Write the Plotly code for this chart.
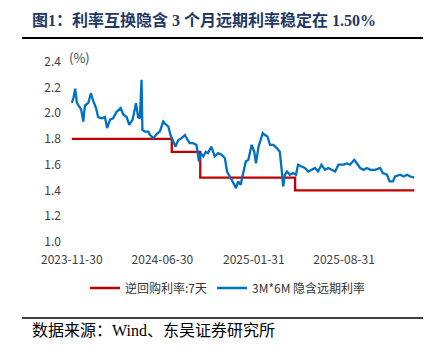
import plotly.graph_objects as go

# ---- data ----
fwd_dates = [
    "2023-11-30", "2023-12-04", "2023-12-08", "2023-12-12", "2023-12-18", "2023-12-22", "2023-12-27",
    "2023-12-31", "2024-01-08", "2024-01-14", "2024-01-19", "2024-01-26", "2024-01-31", "2024-02-08",
    "2024-02-16", "2024-02-21", "2024-02-28", "2024-03-06", "2024-03-14", "2024-03-24", "2024-03-30",
    "2024-04-07", "2024-04-13", "2024-04-21", "2024-04-29", "2024-05-04", "2024-05-08", "2024-05-12",
    "2024-05-14", "2024-05-20", "2024-05-28", "2024-06-01", "2024-06-09", "2024-06-17", "2024-06-24",
    "2024-07-02", "2024-07-06", "2024-07-14", "2024-07-19", "2024-07-25", "2024-07-31", "2024-08-06",
    "2024-08-14", "2024-08-22", "2024-08-27", "2024-09-02", "2024-09-10", "2024-09-18", "2024-09-24",
    "2024-09-28", "2024-10-04", "2024-10-10", "2024-10-15", "2024-10-23", "2024-10-31", "2024-11-08",
    "2024-11-16", "2024-11-24", "2024-11-29", "2024-12-06", "2024-12-12", "2024-12-20", "2024-12-25",
    "2024-12-31", "2025-01-06", "2025-01-12", "2025-01-18", "2025-01-26", "2025-02-01", "2025-02-05",
    "2025-02-11", "2025-02-16", "2025-02-21", "2025-02-26", "2025-03-04", "2025-03-10", "2025-03-18",
    "2025-03-26", "2025-04-02", "2025-04-06", "2025-04-10", "2025-04-14", "2025-04-19", "2025-04-26",
    "2025-05-03", "2025-05-10", "2025-05-15", "2025-05-23", "2025-05-31", "2025-06-08", "2025-06-16",
    "2025-06-24", "2025-07-01", "2025-07-09", "2025-07-17", "2025-07-25", "2025-08-02", "2025-08-10",
    "2025-08-18", "2025-08-30", "2025-09-07", "2025-09-14", "2025-09-24", "2025-09-30", "2025-10-08",
    "2025-10-16", "2025-10-24", "2025-11-01", "2025-11-12", "2025-11-24", "2025-11-30", "2025-12-10",
    "2025-12-16", "2025-12-24", "2025-12-29", "2026-01-10", "2026-01-18", "2026-01-26", "2026-02-03",
    "2026-02-12",
]
fwd_values = [
    2.08, 2.12, 2.19, 2.08, 2.05, 2.03, 1.935,
    2.06, 2.08, 2.155, 2.10, 2.04, 1.97, 1.96,
    1.97, 1.884, 1.95, 1.96, 2.01, 2.04, 1.99,
    1.97, 1.91, 1.95, 2.077, 1.97, 1.96, 2.26,
    1.87, 1.857, 1.857, 1.83, 1.806, 1.84, 1.857,
    1.935, 1.92, 1.896, 1.83, 1.78, 1.74, 1.79,
    1.806, 1.83, 1.806, 1.767, 1.767, 1.754, 1.625,
    1.69, 1.664, 1.70, 1.69, 1.74, 1.664, 1.69,
    1.677, 1.65, 1.547, 1.508, 1.47, 1.418, 1.47,
    1.444, 1.547, 1.625, 1.638, 1.754, 1.70, 1.61,
    1.74, 1.79, 1.845, 1.83, 1.819, 1.754, 1.754,
    1.729, 1.70, 1.574, 1.431, 1.522, 1.547, 1.522,
    1.535, 1.522, 1.60, 1.586, 1.574, 1.547, 1.56,
    1.574, 1.547, 1.60, 1.56, 1.574, 1.56, 1.547,
    1.60, 1.60, 1.61, 1.60, 1.638, 1.61, 1.574,
    1.56, 1.574, 1.56, 1.56, 1.574, 1.535, 1.522,
    1.47, 1.47, 1.508, 1.522, 1.508, 1.522, 1.508,
    1.50,
]

repo_dates = ["2023-11-30", "2024-07-22", "2024-09-27", "2025-05-08", "2026-02-12"]
repo_values = [1.8, 1.7, 1.5, 1.4, 1.4]

tick_vals = ["2023-11-30", "2024-06-30", "2025-01-31", "2025-08-31"]
y_ticks = [1.0, 1.2, 1.4, 1.6, 1.8, 2.0, 2.2, 2.4]

title_text = "图1：利率互换隐含 3 个月远期利率稳定在 1.50%"
source_text = "数据来源：Wind、东吴证券研究所"
repo_name = "逆回购利率:7天"
fwd_name = "3M*6M 隐含远期利率"

# ---- figure ----
W, H = 437, 352
L, R, T, B = 62, 424, 55, 248  # plot area in pixels


def px(x):
    return (x - L) / (R - L)


def py(y):
    return (B - y) / (B - T)


fig = go.Figure()
fig.add_trace(go.Scatter(x=repo_dates, y=repo_values, mode="lines", name=repo_name,
                         line=dict(color="#C00000", width=2.3, shape="hv")))
fig.add_trace(go.Scatter(x=fwd_dates, y=fwd_values, mode="lines", name=fwd_name,
                         line=dict(color="#0070C0", width=2.3)))

sans = "Noto Sans CJK SC, Noto Sans, sans-serif"
serif = "Liberation Serif, Noto Sans CJK SC, serif"

fig.update_layout(
    width=W, height=H,
    margin=dict(l=L, r=W - R, t=T, b=H - B),
    paper_bgcolor="white", plot_bgcolor="white",
    showlegend=True,
    legend=dict(orientation="h", x=px(228), xanchor="center", y=py(288), yanchor="middle",
                font=dict(family=sans, size=12, color="#333333"),
                itemwidth=30, tracegroupgap=0),
    xaxis=dict(type="date", range=["2023-11-07", "2026-03-07"],
               tickvals=tick_vals, ticktext=tick_vals,
               showgrid=False, zeroline=False, showline=False, ticks="",
               ticklabelstandoff=3,
               tickfont=dict(family=sans, size=12, color="#404040")),
    yaxis=dict(range=[0.953, 2.452], tickvals=y_ticks, ticktext=[f"{v:.1f}" for v in y_ticks],
               showgrid=False, zeroline=False, showline=False, ticks="",
               tickfont=dict(family=sans, size=12, color="#404040")),
    shapes=[
        dict(type="line", xref="paper", yref="paper", x0=px(22), x1=px(423), y0=py(38), y1=py(38),
             line=dict(color="black", width=2)),
        dict(type="line", xref="paper", yref="paper", x0=px(22), x1=px(423), y0=py(318), y1=py(318),
             line=dict(color="black", width=1.5)),
    ],
    annotations=[
        dict(text=f"<b>{title_text}</b>", xref="paper", yref="paper", x=px(30), y=py(20),
             xanchor="left", yanchor="middle", showarrow=False,
             font=dict(family=serif, size=16, color="#1F3864")),
        dict(text=source_text, xref="paper", yref="paper", x=px(30), y=py(330),
             xanchor="left", yanchor="middle", showarrow=False,
             font=dict(family=serif, size=16, color="black")),
        dict(text="(%)", xref="paper", yref="paper", x=px(67), y=py(57),
             xanchor="left", yanchor="middle", showarrow=False,
             font=dict(family=sans, size=13, color="#404040")),
    ],
)

fig.write_html("out.html")
